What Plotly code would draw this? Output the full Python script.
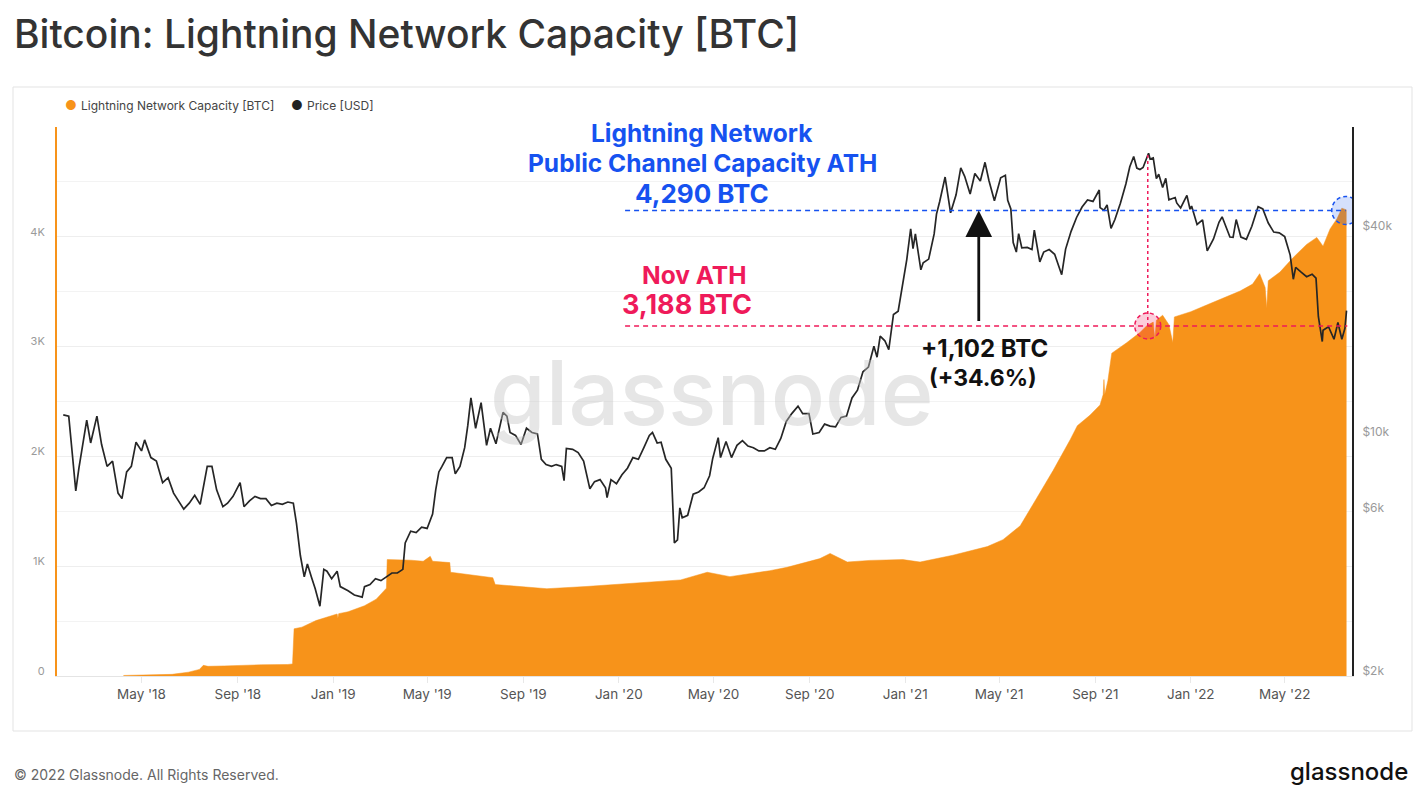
import plotly.graph_objects as go

# ---------------- data ----------------
price_dates = [
    "2018-01-21","2018-01-28","2018-02-01","2018-02-06","2018-02-10","2018-02-20","2018-02-25","2018-03-05",
    "2018-03-11","2018-03-18","2018-03-25","2018-04-01","2018-04-06","2018-04-12","2018-04-18","2018-04-24",
    "2018-05-01","2018-05-05","2018-05-13","2018-05-20","2018-05-28","2018-06-04","2018-06-11","2018-06-17",
    "2018-06-24","2018-07-01","2018-07-08","2018-07-15","2018-07-24","2018-07-30","2018-08-05","2018-08-13",
    "2018-08-19","2018-08-26","2018-09-04","2018-09-09","2018-09-16","2018-09-23","2018-09-30","2018-10-07",
    "2018-10-14","2018-10-21","2018-10-28","2018-11-04","2018-11-11","2018-11-15","2018-11-20","2018-11-25",
    "2018-11-29","2018-12-04","2018-12-09","2018-12-15","2018-12-20","2018-12-24","2018-12-30",
    "2019-01-06","2019-01-10","2019-01-20","2019-01-28","2019-02-07","2019-02-10","2019-02-17","2019-02-24",
    "2019-03-03","2019-03-10","2019-03-17","2019-03-24","2019-03-31","2019-04-03","2019-04-10","2019-04-17",
    "2019-04-24","2019-05-01","2019-05-08","2019-05-12","2019-05-16","2019-05-20","2019-05-26","2019-06-02",
    "2019-06-06","2019-06-12","2019-06-18","2019-06-22","2019-06-26","2019-07-02","2019-07-09","2019-07-16",
    "2019-07-21","2019-07-28","2019-08-06","2019-08-11","2019-08-15","2019-08-22","2019-08-29","2019-09-05",
    "2019-09-12","2019-09-19","2019-09-24","2019-09-30","2019-10-07","2019-10-13","2019-10-20","2019-10-23",
    "2019-10-26","2019-11-03","2019-11-10","2019-11-17","2019-11-22","2019-11-25","2019-12-01","2019-12-08",
    "2019-12-15","2019-12-17","2019-12-22","2019-12-29",
    "2020-01-05","2020-01-12","2020-01-19","2020-01-26","2020-02-02","2020-02-09","2020-02-13","2020-02-19",
    "2020-02-24","2020-03-01","2020-03-08","2020-03-12","2020-03-16","2020-03-19","2020-03-22","2020-03-29",
    "2020-04-05","2020-04-12","2020-04-19","2020-04-26","2020-04-30","2020-05-07","2020-05-10","2020-05-17",
    "2020-05-24","2020-05-31","2020-06-07","2020-06-14","2020-06-21","2020-06-28","2020-07-05","2020-07-12",
    "2020-07-19","2020-07-26","2020-08-02","2020-08-09","2020-08-17","2020-08-23","2020-08-31","2020-09-05",
    "2020-09-13","2020-09-20","2020-09-27","2020-10-04","2020-10-11","2020-10-18","2020-10-25","2020-11-01",
    "2020-11-08","2020-11-15","2020-11-22","2020-11-26","2020-11-30","2020-12-06","2020-12-11","2020-12-17",
    "2020-12-23","2020-12-27",
    "2021-01-03","2021-01-08","2021-01-11","2021-01-14","2021-01-21","2021-01-24","2021-01-31","2021-02-07",
    "2021-02-10","2021-02-14","2021-02-21","2021-02-28","2021-03-07","2021-03-13","2021-03-18","2021-03-25",
    "2021-03-31","2021-04-07","2021-04-13","2021-04-18","2021-04-25","2021-05-03","2021-05-09","2021-05-12",
    "2021-05-16","2021-05-19","2021-05-23","2021-05-26","2021-05-30","2021-06-06","2021-06-12","2021-06-15",
    "2021-06-22","2021-06-27","2021-07-04","2021-07-11","2021-07-20","2021-07-25","2021-08-01","2021-08-08",
    "2021-08-15","2021-08-22","2021-08-29","2021-09-06","2021-09-07","2021-09-12","2021-09-16","2021-09-21",
    "2021-09-26","2021-10-03","2021-10-10","2021-10-15","2021-10-20","2021-10-24","2021-10-28","2021-11-01",
    "2021-11-08","2021-11-10","2021-11-14","2021-11-18","2021-11-21","2021-11-26","2021-11-30","2021-12-04",
    "2021-12-12","2021-12-14","2021-12-19","2021-12-27","2021-12-31",
    "2022-01-02","2022-01-09","2022-01-16","2022-01-22","2022-01-30","2022-02-06","2022-02-10","2022-02-13",
    "2022-02-20","2022-02-24","2022-02-28","2022-03-06","2022-03-13","2022-03-20","2022-03-28","2022-04-03",
    "2022-04-10","2022-04-17","2022-04-24","2022-05-01","2022-05-08","2022-05-12","2022-05-15","2022-05-22",
    "2022-05-29","2022-06-05","2022-06-10","2022-06-13","2022-06-18","2022-06-19","2022-06-26","2022-07-03",
    "2022-07-08","2022-07-13","2022-07-17","2022-07-19",
]
price_usd = [
    11600,11500,9200,6950,8100,11200,9600,11500,
    9500,8200,8500,6850,6600,7900,8200,9650,
    9100,9800,8700,8500,7350,7600,6850,6500,
    6150,6400,6750,6350,8200,8200,7000,6250,
    6400,6700,7350,6250,6500,6700,6600,6600,
    6300,6400,6350,6450,6400,5600,4500,3900,
    4250,3900,3600,3200,4100,4050,3850,
    4050,3650,3550,3450,3400,3650,3700,3850,
    3800,3900,4000,4000,4100,4900,5300,5250,
    5450,5400,5950,7000,7900,8200,8700,8700,
    7800,8200,9300,10800,13000,10600,12600,9450,
    10600,9550,11800,11500,10300,10100,9500,10600,
    10300,10200,8600,8300,8200,8300,8200,7450,
    9250,9200,9000,8500,7600,7050,7400,7500,
    7100,6650,7500,7300,
    7750,8100,8700,8600,9300,10100,10300,9600,
    9650,8600,8100,4900,5000,6200,5800,5900,
    6800,6900,7100,7700,8650,9950,8700,9700,
    8700,9450,9750,9400,9300,9100,9100,9300,
    9200,9900,11100,11700,12300,11700,11700,10200,
    10300,10900,10750,10700,11400,11500,13000,13700,
    15500,16000,18400,17100,19700,19100,18000,22800,
    23300,26300,
    33000,40600,35500,39200,30800,32300,33100,39200,
    44800,48700,57500,45200,51000,61200,57800,51300,
    58900,56000,63500,56200,49000,57200,58200,49200,
    46400,37000,34700,39300,35700,35800,35300,40200,
    32500,34700,35300,34200,29800,35400,39900,43800,
    47000,49300,48800,52700,46800,46000,47700,40700,
    43200,48200,54900,61600,66000,61100,60500,61300,
    67500,64900,65400,56900,58600,53600,57000,49300,
    50100,48300,46700,50800,46300,
    47300,41800,43100,35000,37900,42400,44000,42200,
    38400,38300,43200,38400,37800,41300,47100,46400,
    42200,39700,39500,38500,34000,28900,31300,30300,
    29400,29900,29100,22500,19000,20500,21000,19300,
    21600,19300,20800,23400,
]

cap_dates = [
    "2018-04-08","2018-05-10","2018-06-09","2018-06-30","2018-07-14","2018-07-19","2018-07-25","2018-08-15",
    "2018-08-29","2018-09-07","2018-10-01","2018-11-04","2018-11-10","2018-11-12","2018-11-22","2018-12-10",
    "2019-01-01","2019-01-06","2019-01-07","2019-01-08","2019-01-20","2019-02-10","2019-02-25","2019-03-05",
    "2019-03-10","2019-03-11","2019-04-10","2019-04-26","2019-05-05","2019-05-08","2019-05-30","2019-05-31",
    "2019-07-24","2019-07-27","2019-10-01","2019-11-20","2020-01-15","2020-02-26","2020-03-20","2020-04-23",
    "2020-05-22","2020-07-12","2020-08-03","2020-09-14","2020-09-27","2020-10-19","2020-11-17","2020-12-29",
    "2021-01-20","2021-03-03","2021-04-16","2021-05-06","2021-05-28","2021-06-18","2021-07-09","2021-07-31",
    "2021-08-09","2021-08-25","2021-09-07","2021-09-11","2021-09-12","2021-09-13","2021-09-17","2021-09-22",
    "2021-10-11","2021-10-28","2021-11-06","2021-11-14","2021-11-16","2021-11-18","2021-11-26","2021-12-04",
    "2021-12-09","2021-12-11","2022-01-01","2022-01-22","2022-02-11","2022-03-05","2022-03-21","2022-03-30",
    "2022-04-06","2022-04-08","2022-04-10","2022-04-25","2022-05-11","2022-05-29","2022-06-11","2022-06-19",
    "2022-06-28","2022-07-07","2022-07-13","2022-07-19",
]
cap_btc = [
    5,10,15,35,60,97,88,92,
    95,100,102,105,110,430,445,505,
    555,565,525,568,585,640,700,760,
    800,1060,1055,1045,1090,1045,1033,945,
    895,833,795,815,845,864,875,945,
    905,959,990,1069,1116,1038,1053,1060,
    1038,1100,1179,1242,1368,1619,1871,2154,
    2280,2374,2469,2563,2700,2563,2689,2940,
    3035,3129,3192,3223,3070,3240,3286,3200,
    3035,3270,3318,3381,3443,3506,3569,3664,
    3538,3349,3600,3679,3805,3931,3994,3915,
    4072,4167,4261,4245,
]

left_tickvals = [0, 1000, 2000, 3000, 4000]
left_ticktext = ["0", "1K", "2K", "3K", "4K"]
right_tickvals = [2000, 6000, 10000, 40000]
right_ticktext = ["$2k", "$6k", "$10k", "$40k"]

ath_btc = 4290          # label value
ath_line_btc = 4240     # where the blue dashed line sits in the picture
nov_ath_btc = 3188
nov_ath_date = "2021-11-07"
ath_date = "2022-07-18"
delta_text = "+1,102 BTC"
pct_text = "(+34.6%)"

# ---------------- layout helpers (pixel -> paper) ----------------
W, H = 1427, 785
L, R, T, B = 57, 1352, 127, 676
def px(x):
    return (x - L) / (R - L)
def py(y):
    return (B - y) / (B - T)

ORANGE = "#f7931a"
BLUE = "#1652f0"
PINK = "#ef1a5a"
FONT = "Inter"

fig = go.Figure()
fig.add_trace(go.Scatter(
    x=cap_dates, y=cap_btc, mode="lines", fill="tozeroy",
    line=dict(color=ORANGE, width=0.5), fillcolor=ORANGE,
    name="Lightning Network Capacity [BTC]", yaxis="y", hoverinfo="skip"))
fig.add_trace(go.Scatter(
    x=price_dates, y=price_usd, mode="lines",
    line=dict(color="#262626", width=1.7),
    name="Price [USD]", yaxis="y2", hoverinfo="skip"))

fig.update_layout(
    width=W, height=H,
    margin=dict(l=L, r=W - R, t=T, b=H - B),
    paper_bgcolor="white", plot_bgcolor="white",
    showlegend=False,
    font=dict(family=FONT, color="#555"),
    xaxis=dict(
        type="date", range=["2018-01-13", "2022-07-26"],
        tick0="2018-01-01", dtick="M4", tickformat="%b '%y",
        showgrid=False, showline=True, linecolor="#e4e4e4", linewidth=1,
        ticks="outside", ticklen=6, tickcolor="#e8e8e8",
        tickfont=dict(size=13.5, color="#555", family=FONT), zeroline=False,
    ),
    yaxis=dict(
        range=[0, 5000], tickvals=left_tickvals, ticktext=left_ticktext,
        showgrid=True, gridcolor="#eeeeee", gridwidth=1,
        minor=dict(tickvals=[500, 1500, 2500, 3500, 4500], showgrid=True, gridcolor="#f3f3f3"),
        showline=True, linecolor=ORANGE, linewidth=2, zeroline=False,
        tickfont=dict(size=11, color="#9a9a9a", family=FONT),
        ticklabelshift=-5, ticklabelstandoff=8,
    ),
    yaxis2=dict(
        type="log", range=[3.301, 4.906], overlaying="y", side="right",
        tickvals=right_tickvals, ticktext=right_ticktext,
        showgrid=False, showline=True, linecolor="#222", linewidth=2, zeroline=False,
        tickfont=dict(size=12, color="#9a9a9a", family=FONT),
        ticklabelshift=-5, ticklabelstandoff=6,
    ),
)

shapes = []
# card border
shapes.append(dict(type="rect", xref="paper", yref="paper",
                   x0=px(13), x1=px(1412), y0=py(731), y1=py(87),
                   line=dict(color="#e3e3e3", width=1), fillcolor="rgba(0,0,0,0)", layer="below"))
# blue ATH dashed line
shapes.append(dict(type="line", xref="x", yref="y", x0="2020-01-09", x1=ath_date,
                   y0=ath_line_btc, y1=ath_line_btc, line=dict(color=BLUE, width=1.5, dash="5px,4px")))
# pink Nov ATH dashed line
shapes.append(dict(type="line", xref="x", yref="y", x0="2020-01-09", x1="2022-07-20",
                   y0=nov_ath_btc, y1=nov_ath_btc, line=dict(color=PINK, width=1.5, dash="5px,4px")))
# pink vertical dotted line up to price peak
shapes.append(dict(type="line", xref="x", yref="y", x0=nov_ath_date, x1=nov_ath_date,
                   y0=nov_ath_btc, y1=4755, line=dict(color=PINK, width=1.5, dash="3px,3px")))
# circles
shapes.append(dict(type="circle", xref="x", yref="y", xsizemode="pixel", ysizemode="pixel",
                   xanchor=nov_ath_date, yanchor=nov_ath_btc, x0=-13, x1=13, y0=-13, y1=13,
                   fillcolor="rgba(240,26,90,0.22)", line=dict(color=PINK, width=1.5, dash="4px,3px")))
shapes.append(dict(type="circle", xref="x", yref="y", xsizemode="pixel", ysizemode="pixel",
                   xanchor=ath_date, yanchor=ath_line_btc, x0=-14, x1=14, y0=-14, y1=14,
                   fillcolor="rgba(22,82,240,0.18)", line=dict(color=BLUE, width=1.5, dash="4px,3px")))
fig.update_layout(shapes=shapes)

ann = []
def text(x, y, t, size, color, anchor="center", weight=400, family=FONT, opacity=1):
    ann.append(dict(xref="paper", yref="paper", x=px(x), y=py(y), text=t, showarrow=False,
                    xanchor=anchor, yanchor="middle", opacity=opacity,
                    font=dict(size=size, color=color, family=family, weight=weight)))

# watermark
text(712, 392, "glassnode", 90, "rgba(195,195,195,0.42)", weight=500)
# title
text(12, 33, "Bitcoin: Lightning Network Capacity [BTC]", 39, "#333333", anchor="left", weight=500)
# legend
text(63, 105, "●", 13, ORANGE, anchor="left")
text(79, 105, "Lightning Network Capacity [BTC]", 12, "#444", anchor="left")
text(289, 105, "●", 13, "#222", anchor="left")
text(305, 105, "Price [USD]", 12, "#444", anchor="left")
# blue annotation
text(702, 133, "Lightning Network", 24.5, BLUE, weight=700)
text(702, 163, "Public Channel Capacity ATH", 24.5, BLUE, weight=700)
text(702, 193, f"{ath_btc:,} BTC", 26, BLUE, weight=700)
# pink annotation
text(694, 275, "Nov ATH", 24.5, PINK, weight=700)
text(687, 304, f"{nov_ath_btc:,} BTC", 27, PINK, weight=700)
# delta
text(984, 348, delta_text, 24, "#111", weight=700)
text(983, 378, pct_text, 23, "#111", weight=700)
# footer
text(12, 774, "© 2022 Glassnode. All Rights Reserved.", 14, "#666", anchor="left")
text(1410, 771, "glassnode", 24, "#111", anchor="right", weight=500)

# arrow between the two ATH levels
ann.append(dict(xref="x", yref="y", x="2021-04-05", y=ath_line_btc, ax=0, ay=112,
                axref="pixel", ayref="pixel", text="", showarrow=True,
                arrowhead=2, arrowsize=1.9, arrowwidth=2.8, arrowcolor="#111", standoff=0))
fig.update_layout(annotations=ann)

fig.write_html("out.html", config={"displayModeBar": False},
               post_script="document.body.style.margin='0';")
